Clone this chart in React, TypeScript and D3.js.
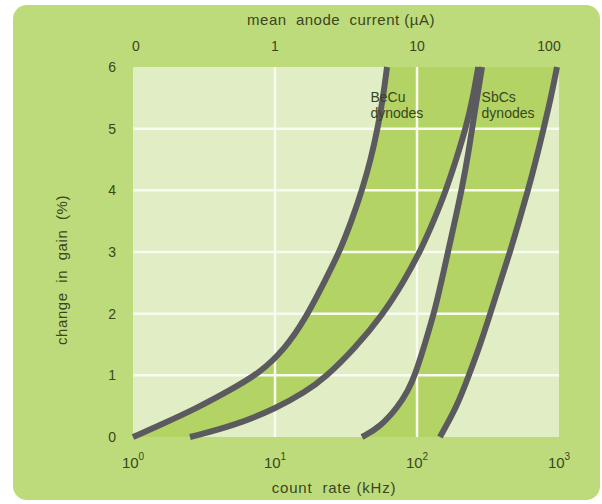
import React from "react";
import * as d3 from "d3";

// Gain-shift curves: [count rate (kHz), change in gain (%)]
const becuLow: [number, number][] = [
  [1.0, 0], [1.68, 0.23], [2.82, 0.47], [4.74, 0.75], [7.84, 1.04], [11.75, 1.43],
  [16.3, 1.91], [22.1, 2.5], [28.7, 3.02], [34.8, 3.52], [41.0, 4.0],
  [47.5, 4.52], [53.1, 5.03], [57.7, 5.51], [61.5, 6.0],
];
const becuHigh: [number, number][] = [
  [2.52, 0], [5.23, 0.19], [10.3, 0.47], [16.3, 0.73], [22.5, 0.96], [36.6, 1.44],
  [57.6, 1.99], [79.6, 2.5], [105, 3.0], [132, 3.52], [160, 4.0],
  [190, 4.52], [222, 5.03], [248, 5.51], [270, 6.0],
];
const sbcsLow: [number, number][] = [
  [41.0, 0], [54.9, 0.16], [73.5, 0.49], [86.4, 0.75], [96.8, 1.0], [114, 1.52],
  [134, 2.06], [155, 2.71], [179, 3.36], [208, 4.04], [232, 4.65],
  [256, 5.3], [287, 6.0],
];
const sbcsHigh: [number, number][] = [
  [145, 0], [191, 0.49], [232, 1.0], [278, 1.49], [327, 1.99], [384, 2.5],
  [452, 3.0], [523, 3.5], [605, 4.0], [689, 4.49], [784, 5.03], [879, 5.51], [968, 6.0],
];

const xTicks = [1, 10, 100, 1000];
const xTickExponents = ["0", "1", "2", "3"];
const topTickLabels = ["0", "1", "10", "100"];
const yTicks = [0, 1, 2, 3, 4, 5, 6];
const gridY = [1, 2, 3, 4, 5];
const gridX = [10, 100];

const W = 602;
const H = 504;
const plot = { left: 133, right: 559, top: 67, bottom: 437 };

const COLORS = {
  frame: "#bddb7b",
  plotBg: "#e1edc4",
  band: "#b3d365",
  grid: "#f8fbef",
  curve: "#5b5b5f",
  text: "#3a4620",
};

export default function App() {
  const x = d3.scaleLog().domain([1, 1000]).range([plot.left, plot.right]);
  const y = d3.scaleLinear().domain([0, 6]).range([plot.bottom, plot.top]);

  const line = d3
    .line<[number, number]>()
    .x((d) => x(d[0]))
    .y((d) => y(d[1]))
    .curve(d3.curveBasis);

  // closed region between two curves: first curve upward, second back down
  const band = (a: [number, number][], b: [number, number][]) => {
    const up = line(a) as string;
    const down = line([...b].reverse()) as string;
    return up + "L" + down.slice(1) + "Z";
  };

  const font = "'Liberation Sans', Arial, sans-serif";

  return (
    <svg
      width={W}
      height={H}
      style={{ position: "absolute", left: 0, top: 0 }}
      fontFamily={font}
    >
      <defs>
        <clipPath id="plot-clip">
          <rect
            x={plot.left}
            y={plot.top}
            width={plot.right - plot.left}
            height={plot.bottom - plot.top}
          />
        </clipPath>
      </defs>

      <rect x={0} y={0} width={W} height={H} fill="#ffffff" />
      <rect x={13} y={5} width={587} height={495} rx={14} fill={COLORS.frame} />

      <rect
        x={plot.left}
        y={plot.top}
        width={plot.right - plot.left}
        height={plot.bottom - plot.top}
        fill={COLORS.plotBg}
      />

      <g clipPath="url(#plot-clip)">
        <path d={band(becuLow, becuHigh)} fill={COLORS.band} />
        <path d={band(sbcsLow, sbcsHigh)} fill={COLORS.band} />
      </g>

      {/* grid */}
      {gridY.map((v) => (
        <line
          key={"gy" + v}
          x1={plot.left}
          x2={plot.right}
          y1={y(v)}
          y2={y(v)}
          stroke={COLORS.grid}
          strokeWidth={2.5}
        />
      ))}
      {gridX.map((v) => (
        <line
          key={"gx" + v}
          x1={x(v)}
          x2={x(v)}
          y1={plot.top}
          y2={plot.bottom}
          stroke={COLORS.grid}
          strokeWidth={2.5}
        />
      ))}

      {/* curves */}
      {[becuLow, becuHigh, sbcsLow, sbcsHigh].map((c, i) => (
        <path
          key={"c" + i}
          d={line(c) as string}
          fill="none"
          stroke={COLORS.curve}
          strokeWidth={6}
          strokeLinecap="butt"
        />
      ))}

      {/* curve labels */}
      <g fill={COLORS.text} fontSize={14}>
        <text x={x(47)} y={102}>BeCu</text>
        <text x={x(47)} y={118}>dynodes</text>
        <text x={x(285)} y={102}>SbCs</text>
        <text x={x(285)} y={118}>dynodes</text>
      </g>

      {/* left axis */}
      <g fill={COLORS.text} fontSize={14} textAnchor="end">
        {yTicks.map((v) => (
          <text key={"yt" + v} x={plot.left - 17} y={y(v)} dy="0.35em">
            {v}
          </text>
        ))}
      </g>
      <text
        transform={`translate(67, ${(plot.top + plot.bottom) / 2 + 18}) rotate(-90)`}
        textAnchor="middle"
        fill={COLORS.text}
        fontSize={15}
        letterSpacing={0.6}
        style={{ whiteSpace: "pre" }}
      >
        change  in  gain  (%)
      </text>

      {/* bottom axis */}
      <g fill={COLORS.text} fontSize={15}>
        {xTicks.map((v, i) => (
          <text key={"xt" + v} x={x(v)} y={468} textAnchor="middle">
            10
            <tspan dy={-8} fontSize={10}>
              {xTickExponents[i]}
            </tspan>
          </text>
        ))}
      </g>
      <text
        x={334}
        y={493}
        textAnchor="middle"
        fill={COLORS.text}
        fontSize={15}
        letterSpacing={0.8}
        style={{ whiteSpace: "pre" }}
      >
        count  rate (kHz)
      </text>

      {/* top axis */}
      <g fill={COLORS.text} fontSize={14} textAnchor="middle">
        {xTicks.map((v, i) => (
          <text key={"tt" + v} x={x(v) + (i === 3 ? -10 : i === 0 ? 3 : 0)} y={51}>
            {topTickLabels[i]}
          </text>
        ))}
      </g>
      <text
        x={341}
        y={25}
        textAnchor="middle"
        fill={COLORS.text}
        fontSize={15}
        letterSpacing={0.5}
        style={{ whiteSpace: "pre" }}
      >
        mean  anode  current (µA)
      </text>
    </svg>
  );
}
